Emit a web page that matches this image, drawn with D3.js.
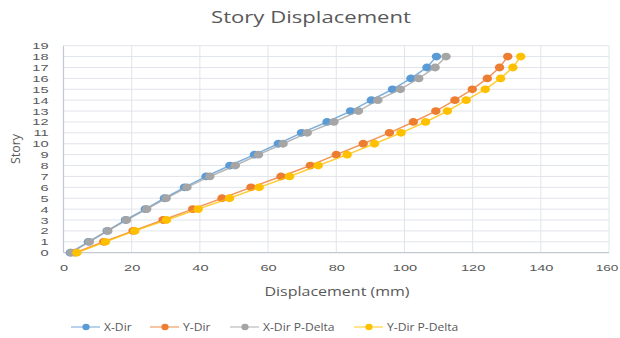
<!DOCTYPE html>
<html>
<head>
<meta charset="utf-8">
<script src="https://cdn.jsdelivr.net/npm/d3@7"></script>
<style>
  html, body { margin: 0; padding: 0; background: #fff; }
  svg { display: block; font-family: "Open Sans", "Noto Sans", sans-serif; }
</style>
</head>
<body>
<svg id="chart" width="620" height="338"></svg>
<script>
// Story levels (0 = base)
const stories = d3.range(0, 19);

// Lateral displacement per story, mm
const xDir =        [2.0, 7.3, 12.8, 18.2, 24.0, 29.6, 35.5, 41.8, 48.8, 56.0, 63.0, 69.8, 77.3, 84.2, 90.3, 96.5, 101.9, 106.6, 109.4];
const yDir =        [3.4, 11.8, 20.4, 29.2, 37.9, 46.5, 55.0, 63.8, 72.4, 80.0, 87.9, 95.6, 102.6, 109.2, 114.8, 119.9, 124.3, 127.9, 130.3];
const xDirPDelta =  [2.2, 7.6, 13.0, 18.5, 24.4, 30.1, 36.2, 42.9, 50.4, 57.2, 64.4, 71.5, 79.3, 86.5, 92.2, 98.8, 104.2, 109.0, 112.2];
const yDirPDelta =  [3.9, 12.3, 20.9, 30.2, 39.5, 48.7, 57.4, 66.3, 74.7, 83.2, 91.2, 99.0, 106.2, 112.6, 118.1, 123.7, 128.2, 131.8, 134.1];

const seriesNames = ["X-Dir", "Y-Dir", "X-Dir P-Delta", "Y-Dir P-Delta"];
const seriesColors = ["#5B9BD5", "#ED7D31", "#A5A5A5", "#FFC000"];
const seriesValues = [xDir, yDir, xDirPDelta, yDirPDelta];

const xTicks = [0, 20, 40, 60, 80, 100, 120, 140, 160];
const yTicks = d3.range(0, 20);

const svg = d3.select("#chart");
const plotLeft = 63.5, plotRight = 609, plotTop = 45.7, plotBottom = 252.7;
const textColor = "#595959";
const wide = 1.55; // horizontal stretch of the tick lettering

const x = d3.scaleLinear().domain([0, 160]).range([plotLeft, plotRight]);
const y = d3.scaleLinear().domain([0, 19]).range([plotBottom, plotTop]);

// Gridlines
const grid = svg.append("g");
grid.selectAll("line.h").data(yTicks.filter(d => d > 0)).join("line")
  .attr("x1", plotLeft).attr("x2", plotRight)
  .attr("y1", d => y(d)).attr("y2", d => y(d))
  .attr("stroke", "#E1E4EA").attr("stroke-width", 1);
grid.selectAll("line.v").data(xTicks.filter(d => d > 0)).join("line")
  .attr("x1", d => x(d)).attr("x2", d => x(d))
  .attr("y1", plotTop).attr("y2", plotBottom)
  .attr("stroke", "#E1E4EA").attr("stroke-width", 1);

// Axis lines
svg.append("line").attr("x1", plotLeft).attr("x2", plotLeft).attr("y1", plotTop).attr("y2", plotBottom)
  .attr("stroke", "#C3C8D2").attr("stroke-width", 1.2);
svg.append("line").attr("x1", plotLeft).attr("x2", plotRight).attr("y1", plotBottom).attr("y2", plotBottom)
  .attr("stroke", "#C3C8D2").attr("stroke-width", 1.2);

// Tick labels via d3 axes
const xAxis = svg.append("g").attr("transform", `translate(0,${plotBottom})`)
  .call(d3.axisBottom(x).tickValues(xTicks).tickSize(0).tickPadding(12));
const yAxis = svg.append("g").attr("transform", `translate(${plotLeft},0)`)
  .call(d3.axisLeft(y).tickValues(yTicks).tickSize(0));
[xAxis, yAxis].forEach(a => {
  a.select(".domain").remove();
  a.selectAll("text").attr("fill", textColor).style("font-size", "9.4px")
    .style("font-family", "'Liberation Sans', sans-serif");
});
// last x label sits against the right edge, so keep it inside the canvas
xAxis.selectAll("text").attr("transform", d => d === 160
  ? `translate(-2.5,0) scale(1.45,1)` : `scale(${wide},1)`);
yAxis.selectAll("text").attr("x", 0).attr("transform", `translate(-15,0) scale(${wide},1)`);

// Series lines and markers
const line = d3.line().x(d => x(d.v)).y(d => y(d.s));
seriesValues.forEach((vals, i) => {
  const pts = vals.map((v, k) => ({ v, s: stories[k] }));
  const g = svg.append("g");
  g.append("path").datum(pts).attr("d", line)
    .attr("fill", "none").attr("stroke", seriesColors[i])
    .attr("stroke-width", 1.5).attr("stroke-opacity", 0.8);
  g.selectAll("ellipse").data(pts).join("ellipse")
    .attr("cx", d => x(d.v)).attr("cy", d => y(d.s))
    .attr("rx", 4.7).attr("ry", 3.9)
    .attr("fill", seriesColors[i]);
});

// Title
svg.append("text").attr("transform", "translate(311,23) scale(1.3,1)").attr("text-anchor", "middle")
  .attr("fill", textColor).style("font-size", "17px").text("Story Displacement");

// Axis titles
svg.append("text").attr("transform", "translate(337,296) scale(1.28,1)").attr("text-anchor", "middle")
  .attr("fill", textColor).style("font-size", "12.5px").text("Displacement (mm)");
svg.append("text").attr("transform", "translate(20,149) rotate(-90)")
  .attr("text-anchor", "middle").attr("fill", textColor).style("font-size", "12.5px").text("Story");

// Legend
const legendX = [71, 150, 230, 354];
const legend = svg.append("g");
seriesNames.forEach((name, i) => {
  const g = legend.append("g").attr("transform", `translate(${legendX[i]},327)`);
  g.append("line").attr("x1", 0).attr("x2", 29).attr("y1", 0).attr("y2", 0)
    .attr("stroke", seriesColors[i]).attr("stroke-width", 1.5).attr("stroke-opacity", 0.6);
  g.append("ellipse").attr("cx", 15).attr("cy", 0).attr("rx", 3.6).attr("ry", 3.2)
    .attr("fill", seriesColors[i]);
  g.append("text").attr("transform", "translate(33,4) scale(1.1,1)").attr("fill", textColor)
    .style("font-size", "11px").text(name);
});
</script>
</body>
</html>
